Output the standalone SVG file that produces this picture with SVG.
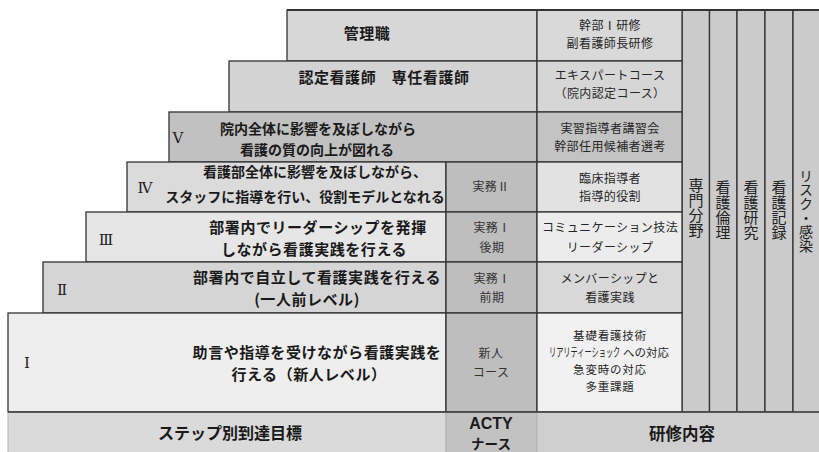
<svg xmlns="http://www.w3.org/2000/svg" width="819" height="452" viewBox="0 0 819 452">
<style>
.b{stroke:#333;stroke-width:1.3}
.f{stroke:#b4b4b4;stroke-width:1}
.goal{font-family:"Noto Sans CJK JP",sans-serif;font-weight:bold;font-size:15px;letter-spacing:0.55px;text-anchor:middle;fill:#1a1a1a}
.goal14{font-family:"Noto Sans CJK JP",sans-serif;font-weight:bold;font-size:14px;text-anchor:middle;fill:#1a1a1a}
.course{font-family:"Noto Sans CJK JP",sans-serif;font-size:12px;letter-spacing:0.4px;text-anchor:middle;fill:#262626}
.acty{font-family:"Noto Sans CJK JP",sans-serif;font-size:12px;letter-spacing:0.4px;text-anchor:middle;fill:#333}
.roman{font-family:"DejaVu Serif","Liberation Serif",serif;font-size:15px;text-anchor:middle;fill:#222}
.vert{font-family:"Noto Sans CJK JP",sans-serif;font-size:15px;writing-mode:vertical-rl;fill:#222}
.foot{font-family:"Noto Sans CJK JP",sans-serif;font-weight:bold;font-size:16px;text-anchor:middle;fill:#1a1a1a}
</style>
<rect x="0" y="0" width="819" height="452" fill="#ffffff"/>

<g id="columns">
  <rect class="b" x="682" y="10" width="27.5" height="402" fill="#cbcbcb"/>
  <rect class="b" x="709.5" y="10" width="27.5" height="402" fill="#cbcbcb"/>
  <rect class="b" x="737" y="10" width="28" height="402" fill="#cbcbcb"/>
  <rect class="b" x="765" y="10" width="28" height="402" fill="#cbcbcb"/>
  <rect x="793" y="10" width="27" height="402" fill="#cbcbcb"/>
  <line class="b" x1="793" y1="10" x2="793" y2="412"/>
  <text class="vert" x="696" y="178">専門分野</text>
  <text class="vert" x="723" y="180">看護倫理</text>
  <text class="vert" x="751" y="180">看護研究</text>
  <text class="vert" x="779" y="180">看護記録</text>
  <text class="vert" x="806" y="169" style="font-size:14px">リスク・感染</text>
</g>

<g id="row-kanri">
  <rect class="b" x="287" y="10" width="250" height="51" fill="#d7d7d7"/>
  <text class="goal" x="367" y="39">管理職</text>
  <rect class="b" x="537" y="10" width="145" height="51" fill="#d9d9d9"/>
  <text class="course"><tspan x="610" y="30">幹部Ⅰ研修</tspan><tspan x="610" y="47.5">副看護師長研修</tspan></text>
</g>

<g id="row-nintei">
  <rect class="b" x="229" y="61" width="308" height="51" fill="#d3d3d3"/>
  <text class="goal" x="384" y="83">認定看護師　専任看護師</text>
  <rect class="b" x="537" y="61" width="145" height="51" fill="#d6d6d6"/>
  <text class="course"><tspan x="610" y="80">エキスパートコース</tspan><tspan x="610" y="97.5">（院内認定コース）</tspan></text>
</g>

<g id="row-5">
  <rect class="b" x="169" y="112" width="368" height="50" fill="#c1c1c1"/>
  <text class="roman" x="178" y="143">Ⅴ</text>
  <text class="goal14"><tspan x="318" y="134">院内全体に影響を及ぼしながら</tspan><tspan x="317" y="154.5">看護の質の向上が図れる</tspan></text>
  <rect class="b" x="537" y="112" width="145" height="50" fill="#c3c3c3"/>
  <text class="course"><tspan x="610" y="133">実習指導者講習会</tspan><tspan x="610" y="150.5">幹部任用候補者選考</tspan></text>
</g>

<g id="row-4">
  <rect class="b" x="127" y="162" width="319" height="50" fill="#dbdbdb"/>
  <text class="roman" x="145" y="193">Ⅳ</text>
  <text class="goal14"><tspan x="315" y="177">看護部全体に影響を及ぼしながら、</tspan><tspan x="305" y="202">スタッフに指導を行い、役割モデルとなれる</tspan></text>
  <rect class="b" x="446" y="162" width="91" height="50" fill="#bebebe"/>
  <text class="acty" x="491" y="191">実務Ⅱ</text>
  <rect class="b" x="537" y="162" width="145" height="50" fill="#e2e2e2"/>
  <text class="course"><tspan x="610" y="183">臨床指導者</tspan><tspan x="610" y="200.5">指導的役割</tspan></text>
</g>

<g id="row-3">
  <rect class="b" x="86" y="212" width="360" height="50" fill="#e6e6e6"/>
  <text class="roman" x="106" y="245">Ⅲ</text>
  <text class="goal"><tspan x="318" y="233">部署内でリーダーシップを発揮</tspan><tspan x="314" y="255">しながら看護実践を行える</tspan></text>
  <rect class="b" x="446" y="212" width="91" height="50" fill="#bebebe"/>
  <text class="acty"><tspan x="492" y="232">実務Ⅰ</tspan><tspan x="492" y="252">後期</tspan></text>
  <rect class="b" x="537" y="212" width="145" height="50" fill="#ececec"/>
  <text class="course"><tspan x="610" y="232">コミュニケーション技法</tspan><tspan x="610" y="252">リーダーシップ</tspan></text>
</g>

<g id="row-2">
  <rect class="b" x="43" y="262" width="403" height="51" fill="#d5d5d5"/>
  <text class="roman" x="62" y="295">Ⅱ</text>
  <text class="goal"><tspan x="317" y="283">部署内で自立して看護実践を行える</tspan><tspan x="307" y="305">(一人前レベル)</tspan></text>
  <rect class="b" x="446" y="262" width="91" height="51" fill="#bebebe"/>
  <text class="acty"><tspan x="492" y="283">実務Ⅰ</tspan><tspan x="492" y="302">前期</tspan></text>
  <rect class="b" x="537" y="262" width="145" height="51" fill="#d8d8d8"/>
  <text class="course"><tspan x="610" y="283">メンバーシップと</tspan><tspan x="610" y="302">看護実践</tspan></text>
</g>

<g id="row-1">
  <rect class="b" x="8" y="313" width="438" height="99" fill="#eeeeee"/>
  <text class="roman" x="27" y="368">Ⅰ</text>
  <text class="goal"><tspan x="317" y="358">助言や指導を受けながら看護実践を</tspan><tspan x="309" y="380">行える（新人レベル）</tspan></text>
  <rect class="b" x="446" y="313" width="91" height="99" fill="#bebebe"/>
  <text class="acty"><tspan x="491" y="358">新人</tspan><tspan x="491" y="377">コース</tspan></text>
  <rect class="b" x="537" y="313" width="145" height="99" fill="#f1f1f1"/>
  <text class="course" style="font-size:11.5px;letter-spacing:0.8px"><tspan x="610" y="339.5">基礎看護技術</tspan><tspan x="623" y="357" style="text-anchor:start;letter-spacing:0">への対応</tspan><tspan x="610" y="374">急変時の対応</tspan><tspan x="610" y="391">多重課題</tspan></text>
  <text class="course" transform="translate(549,357) scale(0.6,1)" x="0" y="0" style="text-anchor:start;letter-spacing:0;font-size:12px">リアリティーショック</text>
</g>

<g id="footer">
  <rect class="f" x="8" y="412" width="438" height="41" fill="#dadada"/>
  <rect class="f" x="446" y="412" width="91" height="41" fill="#c2c2c2"/>
  <rect class="f" x="537" y="412" width="283" height="41" fill="#cfcfcf"/>
  <line class="b" x1="8" y1="412" x2="819" y2="412"/>
  <text class="foot" x="230" y="439">ステップ別到達目標</text>
  <text style="font-family:'Noto Sans CJK JP',sans-serif;font-weight:bold;text-anchor:middle;fill:#1a1a1a"><tspan x="491" y="429" style="font-family:'Liberation Sans',Arial,sans-serif;font-size:16px">ACTY</tspan><tspan x="491" y="449" style="font-size:13.5px">ナース</tspan></text>
  <text class="foot" x="682" y="440" style="font-size:16.5px">研修内容</text>
</g>

<line x1="287" y1="10" x2="819" y2="10" stroke="#333" stroke-width="2"/>
</svg>
